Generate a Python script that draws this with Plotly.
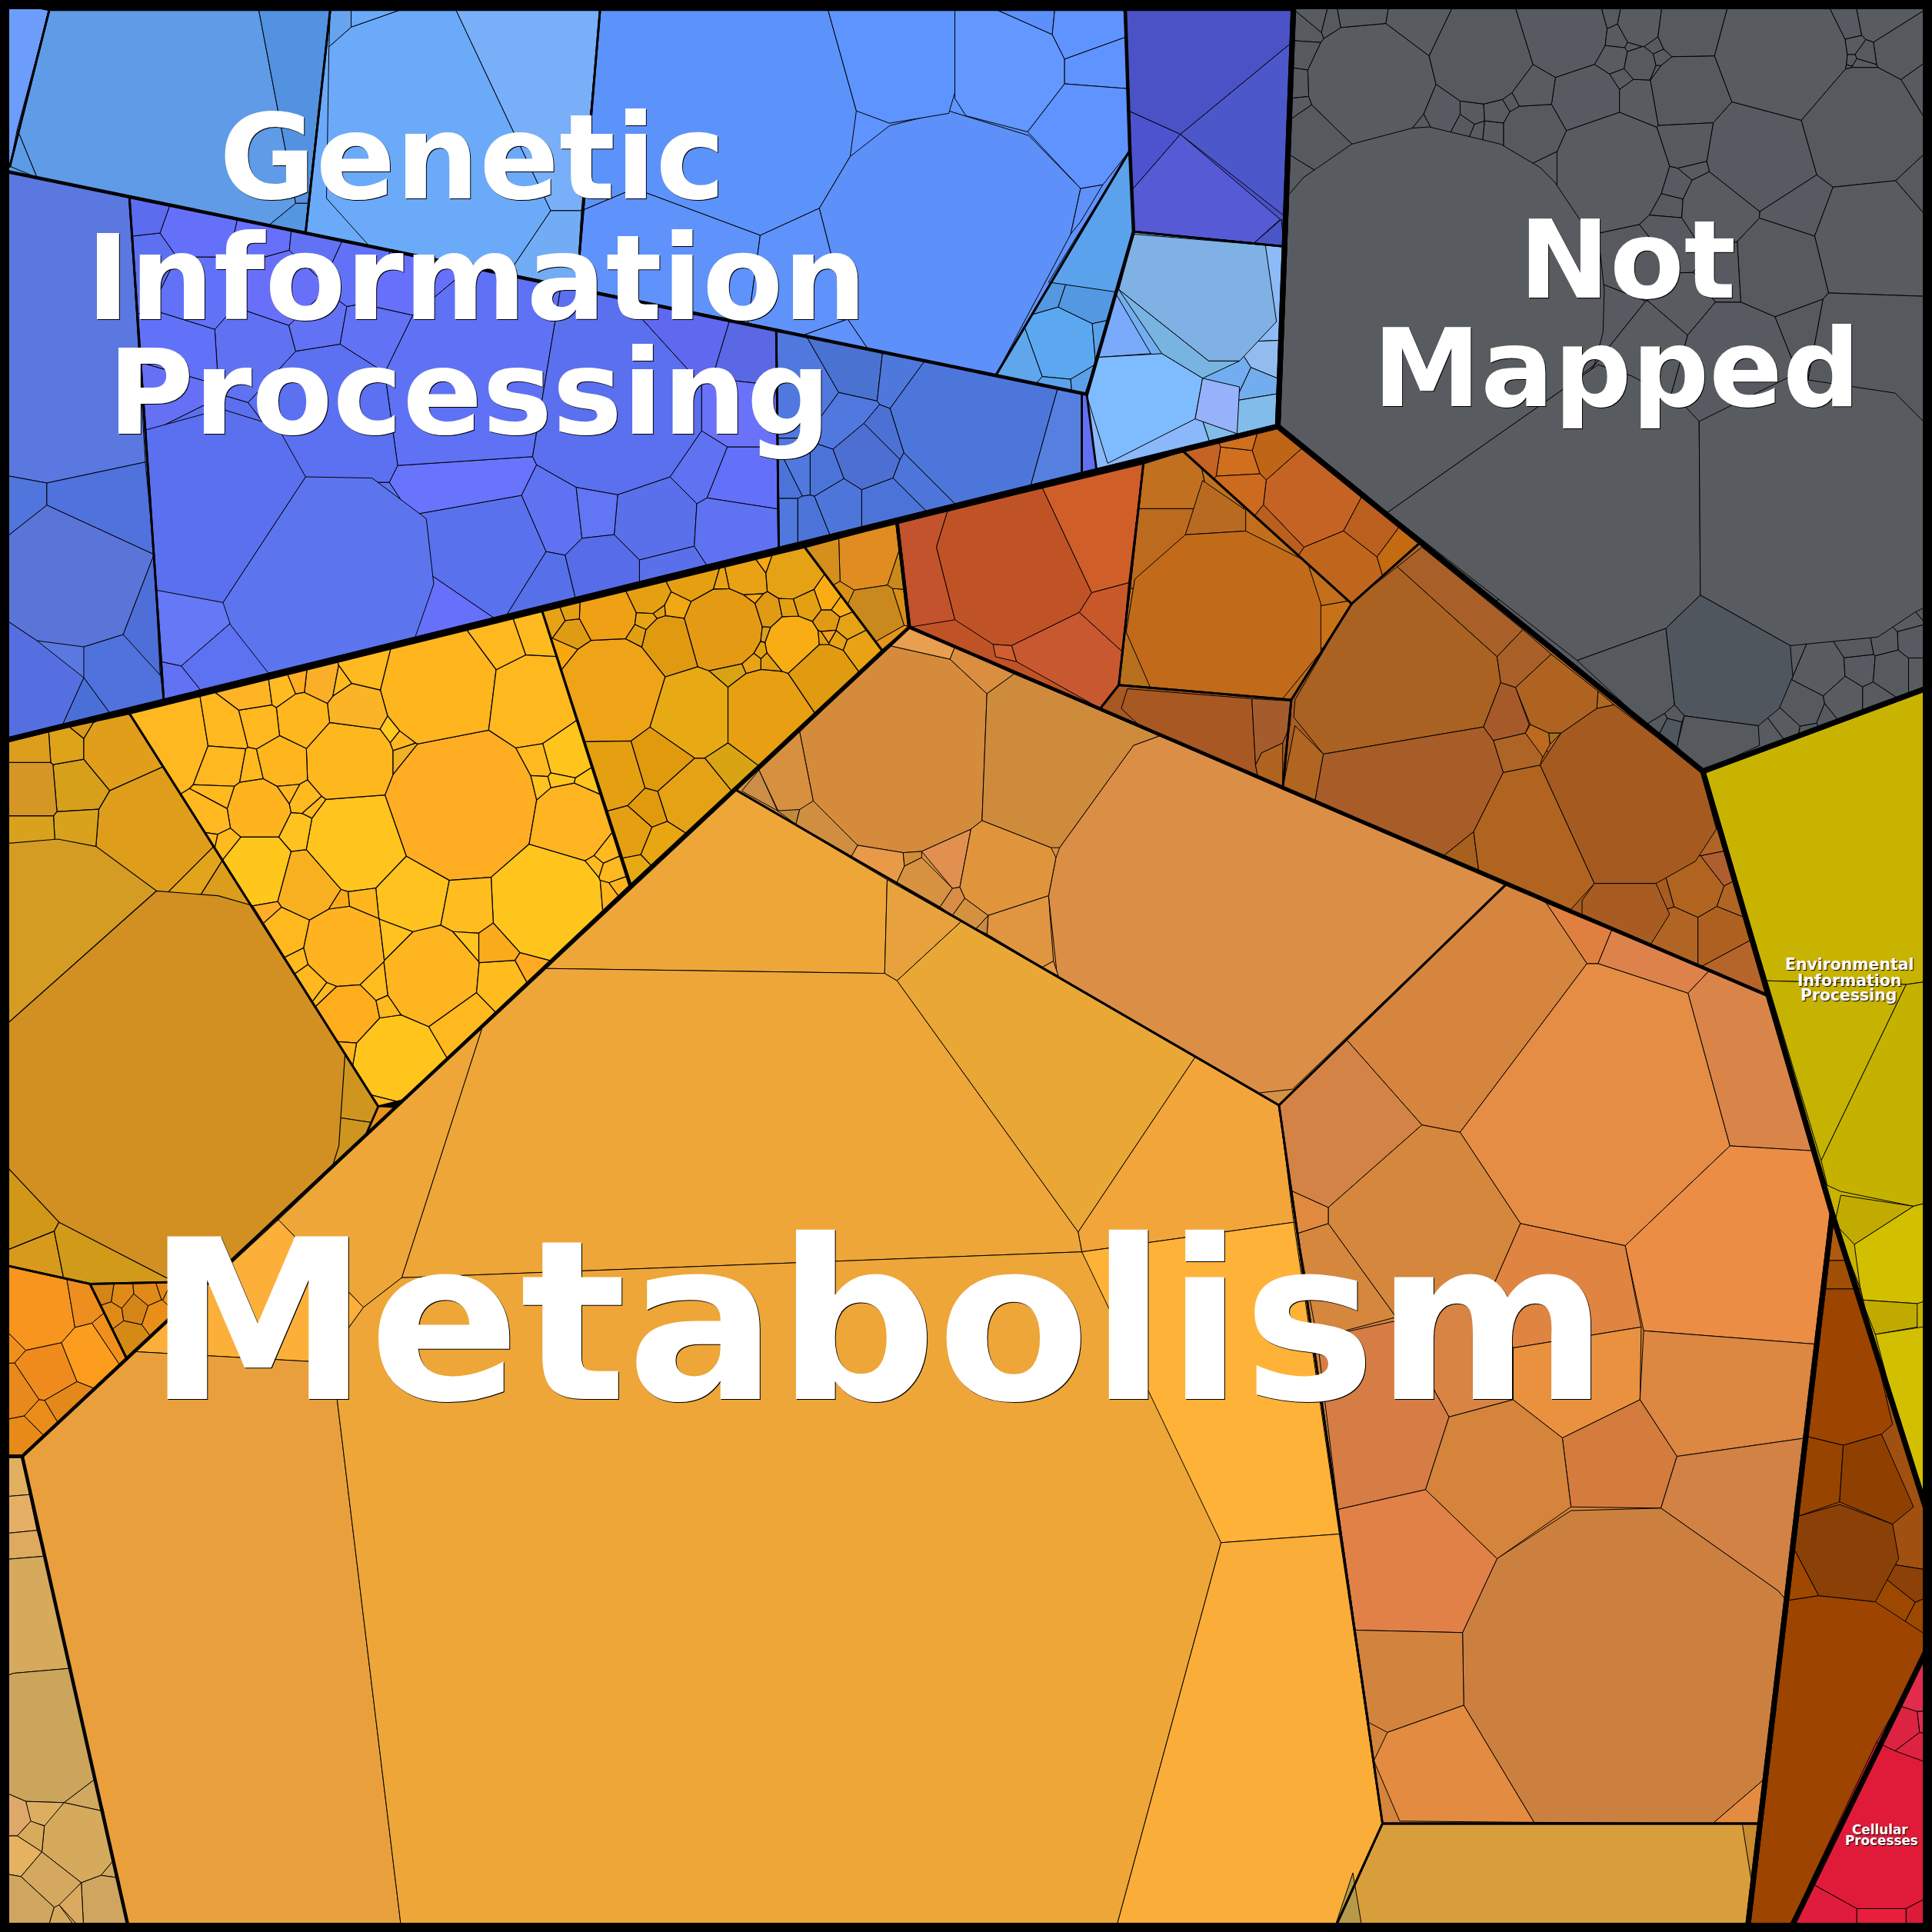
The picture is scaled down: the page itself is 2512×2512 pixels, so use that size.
import itertools

import plotly.graph_objects as go

# Leaf cells come either as polygons or as (x, y, radius) sites of a power diagram.

genetic_outline = [(0, 0), (1050, 0), (1037, 346), (0, 602)]
notmapped_outline = [(1050, 0), (1568, 0), (1568, 557), (1382, 626), (1037, 346)]
env_outline = [(1382, 626), (1568, 557), (1568, 1240), (1487, 985)]
organism_outline = [(1487, 985), (1568, 1240), (1568, 1330), (1452, 1568), (1418, 1568)]
cellular_outline = [(1568, 1330), (1452, 1568), (1568, 1568)]
metabolism_outline = [(0, 602), (1037, 346), (1382, 626), (1487, 985), (1418, 1568), (0, 1568)]

# --- Metabolism, big cells
big_outline = [(18, 1182), (597, 641), (1038, 897), (1122, 1480), (1082, 1568), (105, 1568)]
big_cells = [
    [(597, 641), (720, 714), (718, 790), (442, 786)],
    [(720, 714), (780, 748), (728, 796), (718, 790)],
    [(780, 748), (970, 858), (875, 1000), (728, 796)],
    [(970, 858), (1038, 897), (1050, 992), (878, 1016), (875, 1000)],
    [(442, 786), (718, 790), (728, 796), (875, 1000), (878, 1016), (326, 1037), (392, 832)],
    [(392, 832), (326, 1037), (295, 1061), (226, 990)],
    [(226, 990), (295, 1061), (282, 1079), (270, 1106), (110, 1097)],
    [(18, 1182), (110, 1097), (270, 1106), (326, 1568), (105, 1568)],
    [(270, 1106), (282, 1079), (295, 1061), (326, 1037), (878, 1016), (930, 1110), (991, 1252), (905, 1568), (326, 1568)],
    [(878, 1016), (1050, 992), (1087, 1245), (991, 1252)],
    [(991, 1252), (1087, 1245), (1122, 1480), (1082, 1568), (905, 1568)],
]
big_colors = ["#EEA638", "#E8A23D", "#E9A736", "#F2A53A", "#EEA638", "#EEA638", "#FCB03A",
              "#E9A03C", "#EEA638", "#FFB238", "#FAAD38"]

# --- Metabolism, orange cluster on the right
orange_outline = [(1038, 897), (1222, 718), (1435, 808), (1487, 985), (1428, 1480), (1122, 1480)]
orange_cells = [
    [(1093, 844), (1224, 717), (1255, 733), (1288, 782), (1185, 919), (1154, 913)],
    [(1038, 896), (1049, 884), (1093, 844), (1154, 913), (1078, 980), (1047, 966)],
    [(1185, 919), (1288, 782), (1297, 782), (1370, 806), (1404, 930), (1319, 1011), (1234, 993)],
    [(1255, 733), (1308, 755), (1297, 782), (1288, 782)],
    [(1308, 755), (1387, 788), (1370, 806), (1297, 782)],
    [(1387, 788), (1435, 808), (1472, 934), (1404, 930), (1370, 806)],
    [(1404, 930), (1472, 934), (1487, 985), (1475, 1091), (1334, 1080), (1319, 1011)],
    [(1154, 913), (1185, 919), (1234, 993), (1213, 1041), (1133, 1069), (1078, 993), (1078, 980)],
    [(1234, 993), (1319, 1011), (1332, 1077), (1228, 1094), (1213, 1041)],
    [(1228, 1094), (1332, 1077), (1331, 1136), (1268, 1167), (1228, 1136)],
    [(1334, 1080), (1475, 1091), (1466, 1167), (1361, 1182), (1331, 1136)],
    [(1268, 1167), (1331, 1136), (1361, 1182), (1348, 1224), (1275, 1223)],
    [(1361, 1182), (1466, 1167), (1450, 1299), (1443, 1291), (1348, 1224)],
    [(1275, 1226), (1348, 1224), (1443, 1291), (1450, 1299), (1433, 1443), (1390, 1480), (1245, 1479),
     (1188, 1384), (1187, 1325), (1215, 1265)],
    [(1133, 1072), (1213, 1041), (1228, 1094), (1228, 1136), (1176, 1150)],
    [(1069, 1086), (1133, 1072), (1176, 1150), (1157, 1209), (1086, 1225)],
    [(1176, 1150), (1228, 1136), (1268, 1167), (1275, 1223), (1215, 1265), (1157, 1209)],
    [(1078, 993), (1133, 1069), (1069, 1086), (1053, 1001)],
    [(1047, 966), (1078, 980), (1078, 993), (1053, 1001)],
    [(1086, 1225), (1157, 1209), (1215, 1265), (1187, 1325), (1100, 1323)],
    [(1100, 1323), (1187, 1325), (1188, 1384), (1126, 1406), (1111, 1398)],
    [(1126, 1406), (1188, 1384), (1245, 1479), (1136, 1478), (1115, 1429)],
    [(1390, 1480), (1433, 1443), (1428, 1480)],
]
orange_colors = ["#D5853E", "#D38345", "#E58D44", "#E08040", "#DD824A", "#D9854A", "#EB8D45", "#D5873E",
                 "#DF8541", "#E9913F", "#DC8742", "#D47C3D", "#D18244", "#CC8040", "#D88444", "#D67D45",
                 "#D5843C", "#D5873E", "#E08A40", "#E18147", "#D2843F", "#E38B40", "#E38B40"]

# --- Metabolism, tan cluster
tan_outline = [(597, 641), (738, 509), (1222, 718), (1038, 897)]
tan_cells = [
    [(722, 524), (771, 535), (801, 563), (797, 666), (788, 673), (748, 691), (733, 692), (696, 686), (660, 650), (649, 594)],
    [(738, 509), (775, 525), (771, 535), (722, 524)],
    [(775, 525), (823, 547), (801, 563), (771, 535)],
    [(823, 547), (942, 597), (920, 605), (860, 688), (853, 688), (797, 666), (801, 563)],
    [(942, 597), (1222, 718), (1049, 884), (1022, 887), (858, 792), (851, 727), (857, 696), (860, 688), (920, 605)],
    [(788, 673), (748, 691), (773, 721), (779, 720)],
    [(797, 666), (853, 688), (857, 696), (851, 727), (802, 743), (783, 729), (779, 720), (788, 673)],
    [(802, 743), (851, 727), (855, 780), (846, 785), (801, 758)],
    [(846, 785), (855, 780), (859, 792)],
    [(696, 686), (733, 692), (734, 703), (728, 716), (691, 695)],
    [(733, 692), (748, 691), (748, 696), (734, 703)],
    [(734, 703), (748, 696), (773, 721), (763, 736), (728, 716)],
    [(773, 721), (779, 720), (783, 729), (773, 743), (763, 736)],
    [(783, 729), (802, 743), (792, 754), (773, 743)],
    [(802, 743), (801, 758), (792, 754)],
    [(649, 594), (660, 650), (650, 657), (632, 659), (616, 625)],
    [(631, 658), (649, 657), (646, 669)],
    [(660, 650), (696, 686), (691, 695), (646, 669), (649, 657)],
    [(616, 625), (631, 658), (602, 642)],
]
tan_colors = ["#D48B3C", "#E89F50", "#D98E40", "#CF8B3C", "#DB8E45", "#E29050", "#E0953D", "#E09540", "#E59A45",
              "#E89A48", "#D08E38", "#D69240", "#D88C45", "#D49240", "#C98A42", "#D69040", "#C08A3C", "#D08E40",
              "#CC8E48"]

# --- Metabolism, golden strip at the bottom
gold_outline = [(1122, 1480), (1428, 1480), (1418, 1568), (1082, 1568)]
gold_cells = [[(1082, 1568), (1098, 1520), (1106, 1568)], [(1414, 1480), (1428, 1480), (1422, 1530)]]
gold_colors = ["#B69A49", "#C98A30"]

# --- Metabolism, yellow cluster
yellow_outline = [(105, 579), (440, 496), (512, 718), (327, 893), (307, 898)]
wedge_outline = [(307, 898), (320, 899), (297, 921)]
yellow_sites = [(375, 653, 60), (357, 560, 46), (430, 569, 34), (289, 683, 40), (444, 732, 45), (463, 668, 32),
                (284, 617, 35), (209, 657, 24), (135, 603, 31), (334, 726, 28), (381, 735, 20), (350, 793, 38),
                (322, 859, 34), (279, 768, 32), (283, 823, 23), (209, 706, 28), (250, 717, 26), (231, 758, 18),
                (375, 828, 24), (406, 798, 19), (404, 768, 14), (379, 768, 7), (289, 579, 23), (247, 584, 21),
                (230, 619, 19), (184, 595, 12), (212, 588, 13), (182, 621, 15), (204, 625, 8), (260, 557, 12),
                (208, 563, 9), (230, 560, 8), (242, 555, 5), (276, 560, 6), (297, 545, 12), (407, 523, 14),
                (433, 514, 9), (460, 613, 18), (438, 619, 10), (437, 638, 7), (456, 633, 8), (476, 638, 8),
                (245, 675, 12), (247, 649, 7), (254, 657, 3), (232, 641, 5), (330, 617, 11), (315, 594, 6),
                (325, 602, 5), (181, 648, 7), (173, 663, 12), (184, 686, 8), (170, 683, 3), (241, 778, 8),
                (253, 795, 11), (265, 804, 3), (274, 732, 7), (295, 730, 10), (215, 740, 6), (320, 763, 12),
                (308, 798, 11), (316, 816, 7), (281, 852, 6), (491, 690, 8), (498, 706, 7), (482, 701, 3),
                (492, 728, 8), (503, 720, 4), (315, 887, 6), (430, 785, 7)]
yellow_colors = ["#FFAD22", "#FFB51E", "#FFB91F", "#FFC41E", "#FFC51D", "#FFB422", "#FFB71E", "#FFB41F", "#FFB81F",
                 "#FFC21E", "#FFBD1F", "#FFB51F", "#FFC51D", "#FFB320", "#FFAD1C", "#FFC61C", "#F9B020", "#FFB81E",
                 "#FFB81D", "#FFBC1F", "#F9AB1C", "#FFC41E", "#FAB425", "#FFB71E", "#FFB61E", "#FFB81F", "#FFB81F",
                 "#FFB81F", "#FFB81F", "#FBAE28", "#FFB425", "#FFBB20", "#FFAD22", "#FFBB1E", "#FFBA1F", "#FFB81E",
                 "#FFBA1F", "#FFC51D", "#FFBA1F", "#FFC21E", "#FFC51D", "#FFC51D", "#FFC21F", "#FFBA1F", "#FFBA1F",
                 "#FFB81F", "#F2B024", "#FFCA20", "#FFB81F", "#FFBA1F", "#FFB81F", "#FFBA1F", "#FFB81F", "#FFBA1F",
                 "#FFB81F", "#FFBA1F", "#F9AB1C", "#FFB61E", "#FFAD2A", "#FFC21E", "#FFBD1F", "#FFBA1F", "#FFB41F",
                 "#FFBA1F", "#FFB81F", "#FFBA1F", "#FFB41F", "#FFB41F", "#FFBA1F", "#FFAA22"]

# --- Metabolism, amber cluster
amber_outline = [(440, 496), (653, 444), (716, 528), (511, 719)]
amber_sites = [(496, 560, 42), (562, 580, 34), (622, 580, 36), (587, 510, 32), (643, 522, 22), (493, 499, 22),
               (544, 522, 22), (562, 465, 20), (605, 468, 15), (643, 465, 20), (668, 549, 26), (497, 628, 27),
               (537, 616, 25), (563, 645, 28), (510, 675, 19), (526, 657, 14), (590, 623, 14), (537, 686, 16),
               (516, 706, 9), (526, 483, 15), (465, 514, 11), (458, 530, 8), (450, 503, 7), (463, 498, 5),
               (548, 494, 8), (525, 503, 6), (519, 516, 5), (535, 495, 4), (586, 472, 5), (622, 499, 11),
               (621, 514, 7), (617, 527, 6), (610, 536, 6), (626, 536, 7), (642, 495, 6), (620, 457, 3),
               (606, 485, 4), (672, 504, 8), (689, 509, 9), (672, 485, 9), (682, 492, 6), (655, 491, 10),
               (667, 520, 4), (673, 516, 4), (680, 520, 6), (698, 527, 12), (594, 543, 7)]
amber_colors = ["#EFA316", "#E8AA14", "#E89F12", "#E59A14", "#F9AD14", "#F0A014", "#E09A10", "#E5A012", "#E9A214",
                "#E5A215", "#E09B10", "#E5A012", "#E09A0C", "#E5A215", "#E5A012", "#E09A0C", "#D9A414", "#E8A610",
                "#E8AA14", "#E5A012", "#E09B14", "#F7A810", "#E5A215", "#E5A012", "#F2A814", "#E8A414", "#E0A012",
                "#E5A012", "#E8A414", "#E09A14", "#D9A020", "#E5A012", "#E8A414", "#E0A012", "#E5A012", "#F7A810",
                "#F7A810", "#E09A14", "#E5A215", "#F9AD12", "#F9AD12", "#E5A012", "#E5A012", "#F5A020", "#E5A215",
                "#E8A214", "#D9A414"]

dark_amber_outline = [(653, 444), (728, 424), (738, 509), (716, 528)]
dark_amber_sites = [(703, 457, 22), (709, 497, 22), (670, 458, 12), (728, 491, 8), (685, 486, 5), (722, 520, 7),
                    (730, 466, 6)]
dark_amber_colors = ["#E08C20", "#C9891C", "#D58F1C", "#D99015", "#D99015", "#E5941C", "#C98A1C"]

# --- Metabolism, left gold cluster
leftgold_outline = [(0, 602), (105, 579), (307, 898), (297, 921), (170, 1040), (73, 1042), (0, 1026)]
leftgold_sites = [(125, 675, 45), (60, 637, 22), (25, 640, 25), (62, 670, 14), (25, 672, 15), (55, 608, 15),
                  (95, 608, 28), (85, 590, 7), (25, 610, 16), (155, 705, 14), (182, 722, 8), (30, 1025, 10),
                  (80, 1015, 28), (12, 980, 25), (292, 884, 15), (285, 930, 6), (68, 592, 6), (110, 590, 5)]
leftgold_site_colors = ["#DE9E1C", "#D6A01B", "#D69626", "#D9A21D", "#D9A21D", "#DFA31A", "#E09E1A", "#D99A1C",
                        "#DC9E1C", "#E1A41B", "#DD9D1C", "#D89A1C", "#D19A18", "#D19818", "#CE961F", "#CE961F",
                        "#D99A1C", "#D99A1C"]
leftgold_cells = [
    [(0, 836), (127, 723), (177, 727), (205, 735), (280, 856), (275, 930), (270, 946), (170, 1040), (135, 1037),
     (48, 992), (0, 941)],
    [(0, 685), (47, 681), (78, 687), (127, 723), (0, 836)],
]
leftgold_colors = ["#D29022", "#D49C22"]

# --- Metabolism, bottom-left orange and small brown
leftorange_outline = [(0, 1026), (73, 1042), (103, 1103), (18, 1182), (0, 1182)]
leftorange_sites = [(30, 1065, 30), (40, 1112, 22), (70, 1100, 20), (13, 1130, 15), (60, 1060, 10), (55, 1138, 15),
                    (85, 1090, 8), (20, 1165, 8), (10, 1085, 10), (35, 1150, 7)]
leftorange_colors = ["#F7951E", "#EF8A1C", "#FD9D1E", "#E8891B", "#EE8E1E", "#E5881A", "#F0901C", "#E68A18",
                     "#F0901C", "#E98C1A"]

smallbrown_outline = [(73, 1042), (170, 1040), (103, 1103)]
smallbrown_sites = [(98, 1052, 6), (110, 1062, 8), (120, 1050, 7), (128, 1068, 9), (105, 1085, 8), (85, 1050, 5),
                    (90, 1065, 5), (145, 1050, 10), (135, 1045, 4)]
smallbrown_colors = ["#E08A18", "#D58418", "#E08A18", "#E98E18", "#D48A14", "#D58418", "#E08A18", "#E98E18"]

# --- Metabolism, tan corner at bottom left
corner_outline = [(0, 1182), (18, 1182), (105, 1568), (0, 1568)]
corner_cells = [
    [(0, 1182), (18, 1182), (24, 1213), (0, 1215)],
    [(0, 1215), (24, 1213), (30, 1242), (0, 1245)],
    [(0, 1245), (30, 1242), (36, 1263), (0, 1266)],
    [(0, 1266), (36, 1263), (57, 1354), (11, 1358), (0, 1362)],
    [(0, 1362), (11, 1358), (57, 1354), (77, 1444), (52, 1463), (21, 1462), (0, 1453)],
    [(52, 1463), (77, 1444), (84, 1470)],
    [(21, 1462), (52, 1463), (37, 1482), (24, 1478)],
    [(0, 1453), (21, 1462), (25, 1478), (14, 1490), (0, 1490)],
    [(52, 1463), (84, 1470), (92, 1510), (82, 1522), (66, 1528), (34, 1503), (36, 1482)],
    [(92, 1510), (96, 1524), (82, 1522)],
    [(14, 1490), (25, 1478), (36, 1482), (34, 1503)],
    [(0, 1490), (14, 1490), (34, 1503), (17, 1523), (0, 1520)],
    [(17, 1523), (34, 1503), (66, 1528), (47, 1548), (44, 1548)],
    [(66, 1528), (82, 1522), (96, 1524), (105, 1568), (68, 1568)],
    [(48, 1546), (66, 1528), (68, 1568)],
    [(0, 1520), (17, 1523), (44, 1548), (38, 1568), (0, 1568)],
    [(44, 1548), (48, 1546), (64, 1568), (38, 1568)],
]
corner_colors = ["#E0B060", "#E5B065", "#DDAA60", "#D5AA5C", "#CBA55C", "#D0A85E", "#DEAE60", "#DEA86A", "#D5AA5C",
                 "#D0A85E", "#D8AA5C", "#E5B260", "#D5A85F", "#CFA55F", "#DBAA60", "#CFA55F", "#D5AA5C"]

# --- Metabolism, brown clusters in the upper right
red_outline = [(728, 424), (928, 376), (908, 556), (893, 575), (738, 509)]
red_cells = [
    [(728, 424), (769, 415), (760, 444), (775, 503), (738, 509)],
    [(769, 415), (846, 396), (886, 481), (876, 497), (821, 524), (806, 523), (775, 503), (760, 444)],
    [(846, 396), (928, 376), (916, 473), (886, 481)],
    [(876, 497), (911, 529), (908, 556), (893, 575), (825, 537), (821, 524)],
    [(886, 481), (916, 473), (911, 529), (876, 497)],
    [(806, 523), (821, 524), (825, 537), (808, 533)],
]
red_colors = ["#C2532C", "#C05326", "#D05E29", "#C85830", "#C8582A", "#D05E30"]

rust_outline = [(928, 376), (960, 366), (1097, 490), (1048, 568), (908, 556)]
rust_sites = [(945, 392, 22), (945, 425, 14), (1078, 470, 8), (1085, 510, 8), (1068, 545, 6), (915, 535, 6),
              (1000, 380, 6), (1040, 425, 6)]
rust_site_colors = ["#C0701F", "#BC6A1E", "#C26E1A", "#C87218", "#BC6A1E", "#B8701F", "#C0701F", "#C26E1A"]
rust_cells = [
    [(976, 390), (1011, 414), (1011, 431), (962, 434)],
    [(962, 434), (1011, 431), (1061, 456), (1072, 490), (1072, 529), (1041, 567), (934, 559), (914, 513), (921, 470)],
]
rust_colors = ["#B86B20", "#C16A1A"]

copper_outline = [(960, 366), (1037, 346), (1153, 440), (1097, 490)]
copper_sites = [(1066, 402, 35), (1113, 427, 18), (1089, 458, 23), (1004, 376, 12), (1034, 366, 14), (1005, 395, 12),
                (1136, 444, 9), (1006, 358, 7), (978, 372, 6), (1042, 425, 5)]
copper_colors = ["#C56325", "#BB5F1E", "#C0661C", "#D0701F", "#BE6517", "#CC6A1F", "#C46A10", "#D0701F", "#C56325",
                 "#BB5F1E"]

brown_outline = [(1097, 490), (1153, 440), (1382, 626), (1435, 808), (1041, 640), (1048, 568)]
brown_sites = [(1376, 720, 21), (1394, 706, 10), (1360, 756, 17), (1397, 756, 18), (1407, 731, 10), (1412, 784, 15),
               (1351, 727, 5), (1389, 681, 6)]
brown_site_colors = ["#B0641F", "#AE5F30", "#B06525", "#AE6020", "#B06525", "#B5652A", "#A85C22", "#B06525"]
brown_cells = [
    [(1134, 460), (1154, 444), (1236, 511), (1215, 533)],
    [(1134, 460), (1215, 533), (1218, 554), (1204, 590), (1074, 612), (1050, 582), (1051, 568), (1097, 489)],
    [(1236, 511), (1259, 531), (1230, 558), (1218, 554), (1215, 533)],
    [(1259, 531), (1297, 561), (1296, 575), (1267, 595), (1257, 595), (1242, 588), (1230, 558)],
    [(1297, 561), (1310, 572), (1296, 575)],
    [(1218, 554), (1230, 558), (1241, 588), (1238, 595), (1212, 601), (1204, 590)],
    [(1238, 595), (1242, 588), (1257, 595), (1258, 604), (1252, 615)],
    [(1257, 595), (1267, 595), (1258, 604)],
    [(1212, 601), (1238, 595), (1252, 614), (1250, 621), (1220, 627)],
    [(1074, 612), (1204, 590), (1212, 601), (1220, 627), (1196, 675), (1171, 695), (1067, 651)],
    [(1074, 612), (1067, 651), (1041, 640), (1051, 589)],
    [(1196, 675), (1200, 706), (1171, 695)],
    [(1220, 627), (1250, 621), (1294, 717), (1275, 738), (1200, 706), (1196, 675)],
    [(1250, 621), (1267, 595), (1296, 575), (1310, 572), (1380, 625), (1393, 673), (1376, 699), (1344, 717), (1294, 717)],
    [(1294, 717), (1344, 717), (1355, 742), (1340, 766), (1284, 742), (1284, 731)],
]
brown_colors = ["#A86028", "#AA6222", "#A96028", "#AE6420", "#B06A20", "#A65A2A", "#BC6A20", "#A8701E", "#AE6424",
                "#A85C28", "#B06520", "#A8601E", "#B06420", "#A55A20", "#A85C22"]

sienna_outline = [(908, 556), (1048, 568), (1041, 640), (893, 575)]
sienna_cells = [
    [(915, 559), (1016, 567), (1019, 621), (1021, 631), (925, 589), (910, 575)],
    [(1016, 567), (1048, 569), (1047, 589), (1041, 603), (1024, 611), (1019, 621)],
    [(1024, 611), (1041, 603), (1041, 640), (1021, 631), (1019, 621)],
]
sienna_colors = ["#A85822", "#A55C2C", "#AE6420"]

# --- Genetic Information Processing
topleft_outline = [(0, 0), (40, 8), (8, 135), (0, 138)]
bluesky_outline = [(40, 8), (268, 8), (248, 189), (0, 138), (8, 135)]
bluesky_cells = [
    [(40, 8), (210, 8), (240, 165), (218, 183), (30, 144), (14, 105)],
    [(210, 8), (268, 8), (250, 165), (240, 165)],
    [(240, 165), (250, 165), (248, 189), (218, 183)],
    [(8, 135), (14, 105), (30, 144)],
]
bluesky_colors = ["#5F9BE6", "#5292E0", "#5596E0", "#5C9BE6"]

lightblue_outline = [(268, 8), (487, 8), (468, 234), (248, 189)]
lightblue_cells = [
    [(267, 38), (285, 22), (325, 8), (370, 8), (447, 171), (412, 223), (300, 200), (265, 161)],
    [(370, 8), (487, 8), (472, 171), (447, 171)],
    [(447, 171), (472, 171), (468, 234), (412, 223)],
    [(268, 8), (285, 8), (285, 22), (267, 38)],
    [(285, 8), (325, 8), (285, 22)],
]
lightblue_colors = ["#6BAAF9", "#79AEF9", "#72ACF5", "#66A4F0", "#6BAAF9"]

periwinkle_outline = [(487, 8), (913, 8), (917, 122), (808, 305), (468, 234)]
periwinkle_cells = [
    [(487, 8), (672, 8), (695, 90), (690, 127), (665, 169), (617, 191), (515, 153), (472, 171)],
    [(472, 171), (515, 153), (617, 191), (607, 263), (468, 234)],
    [(617, 191), (665, 169), (688, 259), (652, 272), (607, 263)],
    [(652, 272), (688, 259), (705, 284)],
    [(665, 169), (690, 127), (722, 102), (770, 90), (835, 110), (877, 153), (869, 190), (808, 305), (705, 284), (688, 259)],
    [(672, 8), (775, 8), (775, 75), (770, 92), (722, 100), (695, 90)],
    [(775, 8), (809, 8), (854, 28), (864, 48), (864, 68), (834, 107), (784, 94), (775, 80)],
    [(809, 8), (856, 8), (854, 28)],
    [(856, 8), (912, 8), (914, 30), (864, 48), (854, 28)],
    [(864, 48), (914, 30), (916, 72), (864, 68)],
    [(864, 68), (916, 72), (917, 122), (895, 150), (877, 153), (834, 107)],
    [(877, 153), (895, 150), (877, 180), (869, 190)],
]
periwinkle_colors = ["#5C93FB", "#5F92FB", "#5F92FB", "#5F92FB", "#5D90F8", "#5E94FF", "#6298FF", "#5C90FC", "#5F93FF",
                     "#5F93FF", "#5F93FF", "#6090FA"]

azure_outline = [(917, 122), (920, 188), (882, 320), (808, 305)]
azure_sites = [(862, 280, 27), (879, 245, 14), (886, 278, 8), (834, 290, 14), (859, 312, 5), (849, 235, 8),
               (880, 310, 6)]
azure_site_colors = ["#5CA8F0", "#5398E0", "#5AA0E8", "#60A6EC", "#5BA2EC", "#5398E0", "#5AA0E8"]
azure_cells = [[(917, 122), (920, 188), (906, 237), (851, 229)]]
azure_colors = ["#5BA2EC"]

indigo_outline = [(913, 8), (1050, 8), (1042, 200), (920, 188), (917, 122)]
indigo_cells = [
    [(913, 8), (1050, 8), (1049, 34), (958, 109), (916, 90)],
    [(1049, 34), (1042, 175), (958, 109)],
    [(916, 90), (958, 109), (918, 155)],
    [(958, 109), (1039, 178), (1018, 197), (920, 188), (918, 155)],
    [(1018, 197), (1040, 178), (1042, 200)],
]
indigo_colors = ["#4A52C6", "#4C58CA", "#4D53CF", "#565AD5", "#4A55C8"]

sky_outline = [(920, 188), (1042, 200), (1037, 346), (890, 382), (882, 320)]
sky_sites = [(1028, 265, 10), (1029, 290, 12), (1020, 312, 10), (1024, 336, 14), (935, 365, 10), (1005, 305, 6)]
sky_site_colors = ["#8DBBF8", "#92BCEF", "#72AEEF", "#82BCEA", "#8AB8FA", "#72AEEF"]
sky_cells = [
    [(920, 190), (1027, 199), (1036, 261), (1019, 279), (1006, 293), (981, 293), (908, 235)],
    [(908, 235), (981, 293), (1006, 293), (976, 307), (943, 287)],
    [(906, 239), (934, 287), (891, 290)],
    [(891, 290), (943, 287), (976, 307), (970, 340), (899, 376), (881, 318)],
    [(976, 307), (1006, 314), (1004, 352), (970, 340)],
]
sky_colors = ["#7FB1E5", "#77B4E2", "#7AABFA", "#7FBCFF", "#96B2FB"]

violet_outline = [(105, 160), (630, 268), (632, 445), (133, 570)]
violet_sites = [(265, 470, 70), (395, 446, 45), (175, 398, 65), (385, 390, 30), (380, 314, 65), (500, 334, 65),
                (265, 330, 50), (450, 422, 20), (530, 422, 30), (485, 418, 14), (600, 394, 22), (595, 426, 25),
                (490, 462, 25), (540, 462, 15), (570, 382, 14), (440, 474, 20), (365, 490, 18), (155, 510, 28),
                (175, 533, 25), (145, 557, 8), (210, 279, 28), (255, 267, 20), (300, 275, 20), (145, 283, 22),
                (135, 318, 20), (120, 215, 16), (160, 187, 20), (115, 171, 6), (215, 199, 14), (255, 203, 14),
                (290, 219, 18), (225, 235, 30), (160, 235, 25), (310, 230, 10), (565, 275, 18), (605, 287, 16),
                (600, 334, 18)]
violet_site_colors = ["#5C75EF", "#5A71EE", "#5A70EE", "#6874FC", "#5F72F5", "#5A70EE", "#5C70F2", "#5F72F2", "#5A70EA",
                      "#6175F5", "#6370FA", "#5F72F2", "#566CE8", "#5A70EA", "#5F72F2", "#5570E8", "#6670FA", "#6578F5",
                      "#5C72F0", "#6272F5", "#5E72F2", "#6272F5", "#6272F5", "#6272F8", "#6670F5", "#5C70F0", "#6470FA",
                      "#5C6CEE", "#6670FA", "#6272F5", "#6272F8", "#6870FA", "#6272F8", "#6670FA", "#5F68EE", "#5A68E5",
                      "#6A72FA"]
violet_cells = [
    [(248, 387), (302, 388), (346, 421), (352, 474), (337, 517), (220, 549), (187, 507), (181, 489)],
    [(118, 349), (180, 332), (225, 346), (248, 387), (181, 489), (127, 479)],
]
violet_colors = ["#5C75EF", "#5A70EE"]

steel_outline = [(630, 268), (878, 319), (878, 387), (632, 445)]
steel_sites = [(790, 340, 60), (710, 365, 15), (862, 360, 18), (650, 318, 25), (690, 295, 18), (705, 370, 20),
               (735, 300, 10), (680, 340, 12), (665, 385, 8), (650, 385, 8), (640, 390, 6), (640, 420, 8),
               (655, 420, 8), (680, 410, 12), (720, 410, 14), (745, 385, 10)]
steel_colors = ["#4D76DB", "#4D70D5", "#5580E0", "#5078DE", "#4A72D0", "#4E6FD2", "#4F78DC", "#5078DE", "#4C74D8",
                "#5078DE", "#4C74D8", "#5078DE", "#4C74D8", "#4E76DA", "#4C74D8", "#4E76DA"]

sliver_outline = [(878, 319), (882, 320), (890, 382), (878, 387)]

royal_outline = [(0, 138), (105, 160), (133, 570), (0, 602)]
royal_cells = [
    [(0, 138), (105, 160), (118, 375), (38, 392), (0, 385)],
    [(0, 385), (38, 392), (38, 410), (0, 440)],
    [(38, 392), (118, 375), (125, 450), (38, 410)],
    [(0, 440), (38, 410), (125, 450), (100, 515), (68, 525), (30, 520), (0, 500)],
    [(0, 500), (30, 520), (68, 550), (50, 590), (0, 602)],
    [(68, 525), (100, 515), (130, 545), (133, 570), (90, 580), (68, 550)],
    [(100, 515), (125, 450), (130, 548)],
    [(50, 590), (68, 550), (90, 580)],
]
royal_colors = ["#5A78E0", "#5075DC", "#4F72DC", "#5A74D8", "#566FE0", "#4F72DC", "#4F6FD8", "#4A70D8"]

# --- Not Mapped
grey_sites = [(1112, 67, 50), (1202, 45, 39), (1270, 24, 34), (1447, 45, 52), (1511, 100, 46), (1426, 124, 41),
              (1308, 136, 44), (1370, 74, 30), (1289, 81, 25), (1330, 81, 15), (1243, 107, 22), (1170, 91, 13),
              (1241, 74, 13), (1372, 115, 20), (1457, 172, 15), (1521, 196, 44), (1443, 215, 32), (1363, 153, 10),
              (1377, 136, 8), (1360, 165, 8), (1358, 189, 10), (1392, 167, 27), (1518, 282, 44), (1409, 294, 40),
              (1341, 275, 20), (1325, 215, 20), (1311, 251, 9), (1525, 14, 18), (1542, 41, 20), (1499, 19, 12),
              (1503, 37, 6), (1514, 45, 7), (1503, 50, 4), (1511, 55, 8), (1501, 57, 4), (1562, 69, 15),
              (1331, 19, 18), (1369, 24, 24), (1313, 29, 9), (1311, 47, 9), (1331, 51, 12), (1348, 47, 5),
              (1326, 36, 4), (1343, 36, 6), (1348, 58, 3), (1317, 63, 3), (1306, 14, 8), (1058, 26, 10),
              (1068, 14, 8), (1080, 17, 6), (1107, 12, 20), (1148, 19, 24), (1057, 41, 10), (1053, 69, 7),
              (1055, 88, 5), (1070, 110, 24), (1196, 91, 8), (1213, 90, 8), (1189, 101, 5), (1211, 107, 7),
              (1201, 106, 3), (1228, 81, 3), (1153, 100, 4), (1257, 136, 4), (1565, 158, 5), (1409, 217, 3),
              (1360, 253, 5), (1464, 272, 3), (1051, 141, 6)]
grey_low_sites = [(1477, 545, 19), (1463, 572, 17), (1510, 543, 11), (1496, 566, 15), (1535, 545, 14), (1554, 520, 10),
                  (1554, 545, 5), (1508, 525, 8), (1529, 521, 6), (1549, 501, 8), (1556, 495, 4), (1435, 597, 6),
                  (1451, 585, 10), (1480, 579, 6), (1521, 566, 8), (1458, 537, 4), (1466, 588, 3)]
grey_colors = ["#585B60", "#565A5F", "#575B61"]
grey_cells = [
    [(1039, 346), (1046, 158), (1058, 144), (1097, 117), (1146, 104), (1160, 103), (1218, 117), (1250, 136),
     (1262, 148), (1282, 178), (1297, 189), (1302, 235), (1301, 270), (1294, 296), (1270, 315), (1126, 416)],
    [(1126, 416), (1270, 315), (1297, 296), (1324, 305), (1365, 327), (1379, 342), (1380, 483), (1352, 510), (1280, 536)],
    [(1379, 342), (1452, 306), (1538, 319), (1561, 342), (1568, 360), (1568, 490), (1554, 497), (1524, 517),
     (1453, 524), (1380, 483)],
    [(1380, 483), (1453, 524), (1455, 549), (1444, 575), (1427, 589), (1367, 581), (1359, 572), (1352, 510)],
    [(1280, 536), (1352, 510), (1359, 572), (1351, 579), (1336, 588)],
    [(1367, 581), (1427, 589), (1428, 605), (1382, 626), (1361, 606)],
    [(1351, 579), (1359, 572), (1367, 581), (1365, 586), (1353, 583)],
    [(1353, 583), (1365, 586), (1361, 606), (1347, 595)],
    [(1336, 588), (1351, 579), (1353, 583), (1347, 595)],
]
grey_cell_colors = ["#585B60", "#585B60", "#585B60", "#4F565E", "#565A5F", "#565A5F", "#565A5F", "#4F565E", "#565A5F"]

# --- Environmental Information Processing
env_cells = [
    [(1382, 626), (1568, 557), (1568, 796), (1547, 799), (1434, 796)],
    [(1434, 796), (1547, 799), (1478, 942)],
    [(1547, 799), (1568, 796), (1568, 975), (1553, 979), (1494, 967), (1483, 962), (1478, 942)],
    [(1494, 970), (1553, 979), (1505, 1010), (1489, 993)],
    [(1505, 1010), (1553, 979), (1568, 975), (1568, 1054), (1556, 1058), (1511, 1055)],
    [(1511, 1055), (1556, 1058), (1556, 1077), (1522, 1083)],
    [(1522, 1083), (1560, 1077), (1568, 1077), (1568, 1240), (1560, 1226)],
]
env_colors = ["#C8B400", "#C6B200", "#C5B200", "#C2AB00", "#D2BF00", "#C0AA00", "#D2BF00"]

# --- dark brown sector
organism_sites = [(1556, 1260, 10), (1552, 1285, 10), (1540, 1300, 8), (1563, 1312, 8), (1480, 1015, 6)]
organism_site_colors = ["#A05010", "#8D4008", "#9C4800", "#9C4800", "#B05A10"]
organism_cells = [
    [(1450, 1299), (1476, 1295), (1522, 1300), (1568, 1330), (1452, 1568), (1418, 1568)],
    [(1480, 1046), (1510, 1046), (1536, 1156), (1527, 1164), (1496, 1173), (1467, 1166)],
    [(1487, 985), (1501, 1023), (1483, 1023)],
    [(1483, 1023), (1501, 1023), (1510, 1046), (1480, 1046)],
    [(1467, 1166), (1496, 1173), (1493, 1219), (1458, 1231)],
    [(1496, 1173), (1527, 1164), (1553, 1223), (1536, 1237), (1493, 1219)],
    [(1493, 1221), (1536, 1237), (1541, 1265), (1522, 1300), (1476, 1295), (1456, 1257), (1458, 1231)],
    [(1456, 1257), (1476, 1295), (1450, 1299)],
]
organism_colors = ["#9C4400", "#9C4400", "#B05A10", "#A04F05", "#964400", "#8F4000", "#8B4008", "#A04800"]

# --- Cellular Processes
cellular_cells = [
    [(1523, 1414), (1568, 1432), (1568, 1538), (1547, 1549), (1507, 1549), (1469, 1528)],
    [(1469, 1528), (1507, 1549), (1507, 1568), (1452, 1568)],
    [(1507, 1549), (1547, 1549), (1547, 1568), (1507, 1568)],
    [(1547, 1549), (1568, 1538), (1568, 1568), (1547, 1568)],
    [(1540, 1384), (1556, 1389), (1558, 1406), (1538, 1421), (1523, 1414)],
    [(1568, 1335), (1568, 1389), (1556, 1389), (1540, 1384)],
    [(1556, 1389), (1568, 1389), (1568, 1408), (1558, 1406)],
    [(1558, 1406), (1568, 1408), (1568, 1432), (1538, 1421)],
]
cellular_colors = ["#E01B3A", "#E01C3C", "#E81E3C", "#DC1B3A", "#DC2442", "#E22C4C", "#E22C4C", "#DC2442"]

# thicker second level boundaries
genetic_upper_outline = [(0, 0), (913, 0), (917, 122), (920, 188), (882, 320), (0, 138)]
metabolism_left_outline = [(0, 602), (728, 424), (738, 509), (18, 1182), (0, 1182)]
metabolism_brown_outline = [(728, 424), (1037, 346), (1382, 626), (1435, 808), (738, 509)]

labels = ["Genetic", "Information", "Processing", "Not", "Mapped", "Metabolism",
          "Environmental", "Information", "Processing", "Cellular", "Processes"]
label_x = [383, 387, 381, 1321, 1312, 712, 1501, 1501, 1500, 1526, 1527]
label_y = [128, 226, 319, 211, 299, 1073, 783, 796, 808, 1485, 1494]
label_sizes = [153, 153, 153, 141, 141, 290, 20.4, 20.4, 20.4, 16.8, 16.8]


def clip(poly, ax, ay, c):
    # keep the part of poly where ax*x + ay*y <= c
    out = []
    for i, p in enumerate(poly):
        q = poly[(i + 1) % len(poly)]
        dp = ax * p[0] + ay * p[1] - c
        dq = ax * q[0] + ay * q[1] - c
        if dp <= 0:
            out.append(p)
        if dp * dq < 0:
            t = dp / (dp - dq)
            out.append((p[0] + t * (q[0] - p[0]), p[1] + t * (q[1] - p[1])))
    return out


def power_cells(outline, sites):
    cells = []
    for i, (x, y, r) in enumerate(sites):
        poly = list(outline)
        for j, (u, v, s) in enumerate(sites):
            if i != j and poly:
                poly = clip(poly, 2 * (u - x), 2 * (v - y), u**2 + v**2 - s**2 - x**2 - y**2 + r**2)
        cells.append(poly)
    return cells


fig = go.Figure()


def add_poly(poly, fill=None, width=1.0):
    if len(poly) < 3:
        return
    xs = [p[0] for p in poly] + [poly[0][0]]
    ys = [p[1] for p in poly] + [poly[0][1]]
    fig.add_trace(go.Scatter(
        x=xs, y=ys, mode="lines", hoverinfo="skip", showlegend=False,
        fill="toself" if fill else "none", fillcolor=fill,
        line=dict(color="black", width=width),
    ))


def add_group(outline, base, sites=(), site_colors=(), cells=(), colors=(), leaf=1.0):
    add_poly(outline, base, leaf)
    for poly, color in zip(power_cells(outline, list(sites)), itertools.cycle(site_colors or [base])):
        add_poly(poly, color, leaf)
    for poly, color in zip(cells, colors):
        add_poly(poly, color, leaf)


add_group(notmapped_outline, "#585B60", sites=grey_sites + grey_low_sites, site_colors=grey_colors,
          cells=grey_cells, colors=grey_cell_colors)
add_group(env_outline, "#C8B400", cells=env_cells, colors=env_colors)
add_group(organism_outline, "#9C4400", sites=organism_sites, site_colors=organism_site_colors,
          cells=organism_cells, colors=organism_colors)
add_group(cellular_outline, "#E01B3A", cells=cellular_cells, colors=cellular_colors)

add_group(topleft_outline, "#6C9DFB")
add_group(bluesky_outline, "#5F9BE6", cells=bluesky_cells, colors=bluesky_colors)
add_group(lightblue_outline, "#6BAAF9", cells=lightblue_cells, colors=lightblue_colors)
add_group(periwinkle_outline, "#5F93FF", cells=periwinkle_cells, colors=periwinkle_colors)
add_group(azure_outline, "#5BA2EC", sites=azure_sites, site_colors=azure_site_colors,
          cells=azure_cells, colors=azure_colors)
add_group(indigo_outline, "#4A52C6", cells=indigo_cells, colors=indigo_colors)
add_group(sky_outline, "#8AB8FA", sites=sky_sites, site_colors=sky_site_colors, cells=sky_cells, colors=sky_colors)
add_group(royal_outline, "#5A78E0", cells=royal_cells, colors=royal_colors)
add_group(violet_outline, "#5C72F0", sites=violet_sites, site_colors=violet_site_colors,
          cells=violet_cells, colors=violet_colors)
add_group(steel_outline, "#4D76DB", sites=steel_sites, site_colors=steel_colors)
add_group(sliver_outline, "#6070F0")

add_group(big_outline, "#EEA638", cells=big_cells, colors=big_colors)
add_group(orange_outline, "#D5843C", cells=orange_cells, colors=orange_colors)
add_group(tan_outline, "#D49045", cells=tan_cells, colors=tan_colors)
add_group(gold_outline, "#D99E3C", cells=gold_cells, colors=gold_colors)
add_group(yellow_outline, "#FFB81F", sites=yellow_sites, site_colors=yellow_colors, leaf=1.2)
add_group(wedge_outline, "#E8941C")
add_group(amber_outline, "#E5A012", sites=amber_sites, site_colors=amber_colors, leaf=1.2)
add_group(dark_amber_outline, "#E08E14", sites=dark_amber_sites, site_colors=dark_amber_colors)
add_group(leftgold_outline, "#DC9E1C", sites=leftgold_sites, site_colors=leftgold_site_colors,
          cells=leftgold_cells, colors=leftgold_colors, leaf=1.2)
add_group(leftorange_outline, "#F7951E", sites=leftorange_sites, site_colors=leftorange_colors)
add_group(smallbrown_outline, "#E08A18", sites=smallbrown_sites, site_colors=smallbrown_colors)
add_group(corner_outline, "#D2A860", cells=corner_cells, colors=corner_colors)
add_group(red_outline, "#C05326", cells=red_cells, colors=red_colors)
add_group(rust_outline, "#C0701F", sites=rust_sites, site_colors=rust_site_colors, cells=rust_cells, colors=rust_colors)
add_group(copper_outline, "#C56325", sites=copper_sites, site_colors=copper_colors)
add_group(brown_outline, "#AB6228", sites=brown_sites, site_colors=brown_site_colors,
          cells=brown_cells, colors=brown_colors)
add_group(sienna_outline, "#A85822", cells=sienna_cells, colors=sienna_colors)

# second level outlines
for outline in [topleft_outline, bluesky_outline, lightblue_outline, periwinkle_outline, azure_outline,
                indigo_outline, sky_outline, royal_outline, violet_outline, steel_outline,
                big_outline, orange_outline, tan_outline, gold_outline, yellow_outline, amber_outline,
                dark_amber_outline, leftgold_outline, leftorange_outline, smallbrown_outline, corner_outline,
                red_outline, rust_outline, copper_outline, brown_outline, sienna_outline]:
    add_poly(outline, None, 2.8)
for outline in [genetic_upper_outline, metabolism_left_outline, metabolism_brown_outline, corner_outline]:
    add_poly(outline, None, 4.5)

# top level outlines
for outline in [genetic_outline, notmapped_outline, env_outline, organism_outline, cellular_outline,
                metabolism_outline]:
    add_poly(outline, None, 7)
add_poly([(0, 0), (1568, 0), (1568, 1568), (0, 1568)], None, 24)

for text, x, y, size in zip(labels, label_x, label_y, label_sizes):
    fig.add_annotation(
        x=x, y=y, text=text, showarrow=False, xanchor="center", yanchor="middle",
        font=dict(family="DejaVu Sans", size=size, color="white", weight=700,
                  shadow="1px 1px 0px #000" if size > 100 else "1px 1px 1px #000"),
    )

fig.update_layout(
    width=2512, height=2512, margin=dict(l=0, r=0, t=0, b=0),
    paper_bgcolor="black", plot_bgcolor="black",
    xaxis=dict(range=[0, 1568], visible=False, fixedrange=True),
    yaxis=dict(range=[1568, 0], visible=False, fixedrange=True),
)

# the page's default body margin would push the figure off the window
fig.write_html("out.html", config={"displayModeBar": False}, post_script="document.body.style.margin='0';")
